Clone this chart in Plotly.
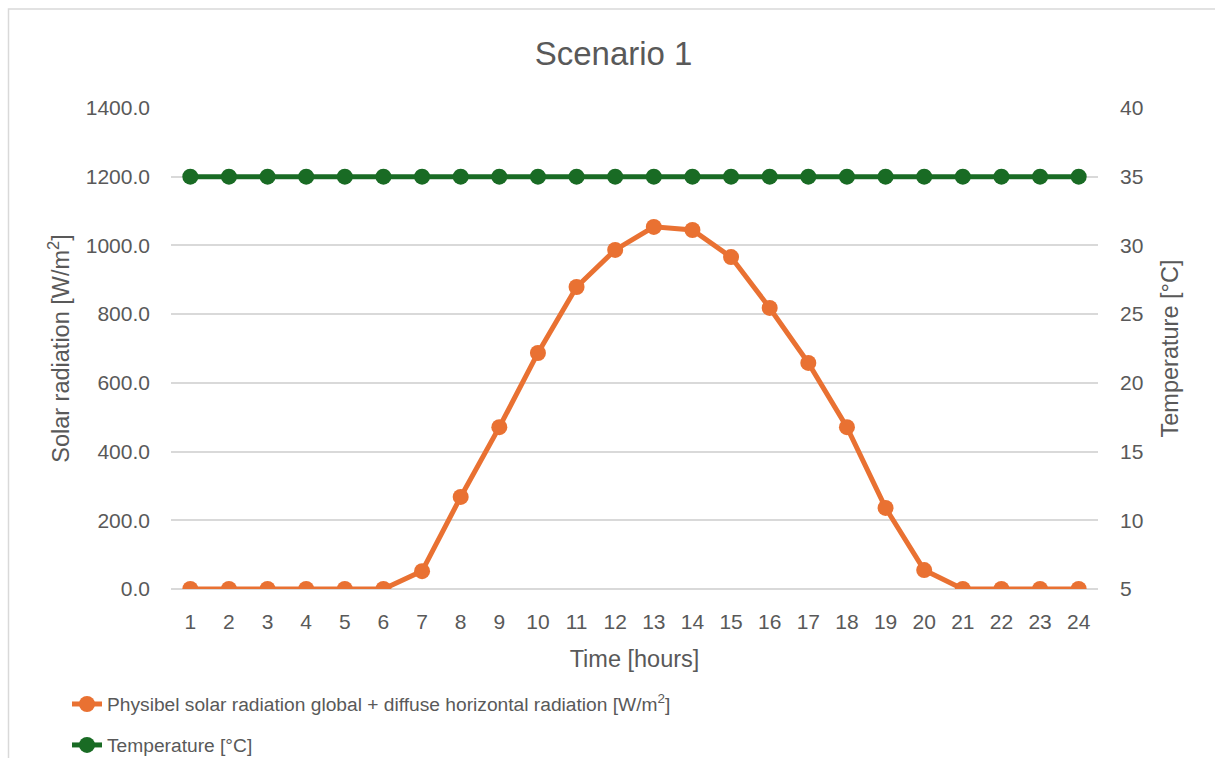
import plotly.graph_objects as go

hours = list(range(1, 25))
solar = [0, 0, 0, 0, 0, 0, 52, 268, 471, 687, 879, 987, 1054, 1045, 966, 818, 658, 471, 236, 55, 0, 0, 0, 0]
temperature = [35] * 24

title_text = "Scenario 1"
solar_name = "Physibel solar radiation global + diffuse horizontal radiation [W/m<sup>2</sup>]"
temp_name = "Temperature [°C]"
x_title = "Time [hours]"
y1_title = "Solar radiation [W/m<sup>2</sup>]"
y2_title = "Temperature [°C]"
y1_ticks = [0, 200, 400, 600, 800, 1000, 1200, 1400]
y2_ticks = [5, 10, 15, 20, 25, 30, 35, 40]

ORANGE = "#E97132"
GREEN = "#196B24"
GRID = "#D9D9D9"
TXT = "#595959"
FONT = "Liberation Sans, Arial, sans-serif"

W, H = 1215, 758
L, R, T, B = 171, 117, 108, 169
pw, ph = W - L - R, H - T - B

fig = go.Figure()
fig.add_trace(go.Scatter(
    x=hours, y=solar, name=solar_name, mode="lines+markers",
    line=dict(color=ORANGE, width=5), marker=dict(color=ORANGE, size=16),
    legendgroup="a", yaxis="y"))
fig.add_trace(go.Scatter(
    x=hours, y=temperature, name=temp_name, mode="lines+markers",
    line=dict(color=GREEN, width=5), marker=dict(color=GREEN, size=16),
    legendgroup="b", yaxis="y2"))

fig.update_layout(
    width=W, height=H,
    margin=dict(l=L, r=R, t=T, b=B, autoexpand=False),
    paper_bgcolor="white", plot_bgcolor="white",
    font=dict(family=FONT, color=TXT, size=21),
    title=dict(text=title_text, x=0.505, xref="container", xanchor="center",
               y=1 - 53 / H, yref="container", yanchor="middle",
               font=dict(size=33, color=TXT, family=FONT)),
    xaxis=dict(
        type="linear", range=[0.5, 24.5], tickvals=hours, ticktext=[str(h) for h in hours],
        showgrid=False, zeroline=False, showline=False, ticks="",
        ticklabelstandoff=18, tickfont=dict(size=21, color=TXT),
        title=dict(text=x_title, standoff=18, font=dict(size=23.5, color=TXT))),
    yaxis=dict(
        range=[0, 1400], tickvals=y1_ticks, ticktext=[f"{v:.1f}" for v in y1_ticks],
        showgrid=True, gridcolor=GRID, gridwidth=1.5, zeroline=True, zerolinecolor=GRID,
        zerolinewidth=1.5, showline=False, ticks="", ticklabelstandoff=20,
        tickfont=dict(size=21, color=TXT),
        title=dict(text=y1_title, standoff=9, font=dict(size=23.5, color=TXT))),
    yaxis2=dict(
        range=[5, 40], tickvals=y2_ticks, overlaying="y", side="right",
        showgrid=False, zeroline=False, showline=False, ticks="", ticklabelstandoff=21,
        tickfont=dict(size=21, color=TXT),
        title=dict(text=y2_title, standoff=19, font=dict(size=23.5, color=TXT))),
    legend=dict(
        orientation="v", x=(67 - L) / pw, xanchor="left", y=-(685 - (T + ph)) / ph,
        yanchor="top", font=dict(family=FONT, size=19.2, color=TXT),
        tracegroupgap=13, bgcolor="rgba(0,0,0,0)"),
    showlegend=True,
)

fig.add_shape(type="rect", xref="paper", yref="paper",
              x0=(8.5 - L) / pw, x1=(1220 - L) / pw,
              y0=(T + ph - 765) / ph, y1=(T + ph - 9) / ph,
              line=dict(color=GRID, width=1.5), fillcolor="rgba(0,0,0,0)", layer="below")

fig.write_html("out.html")
